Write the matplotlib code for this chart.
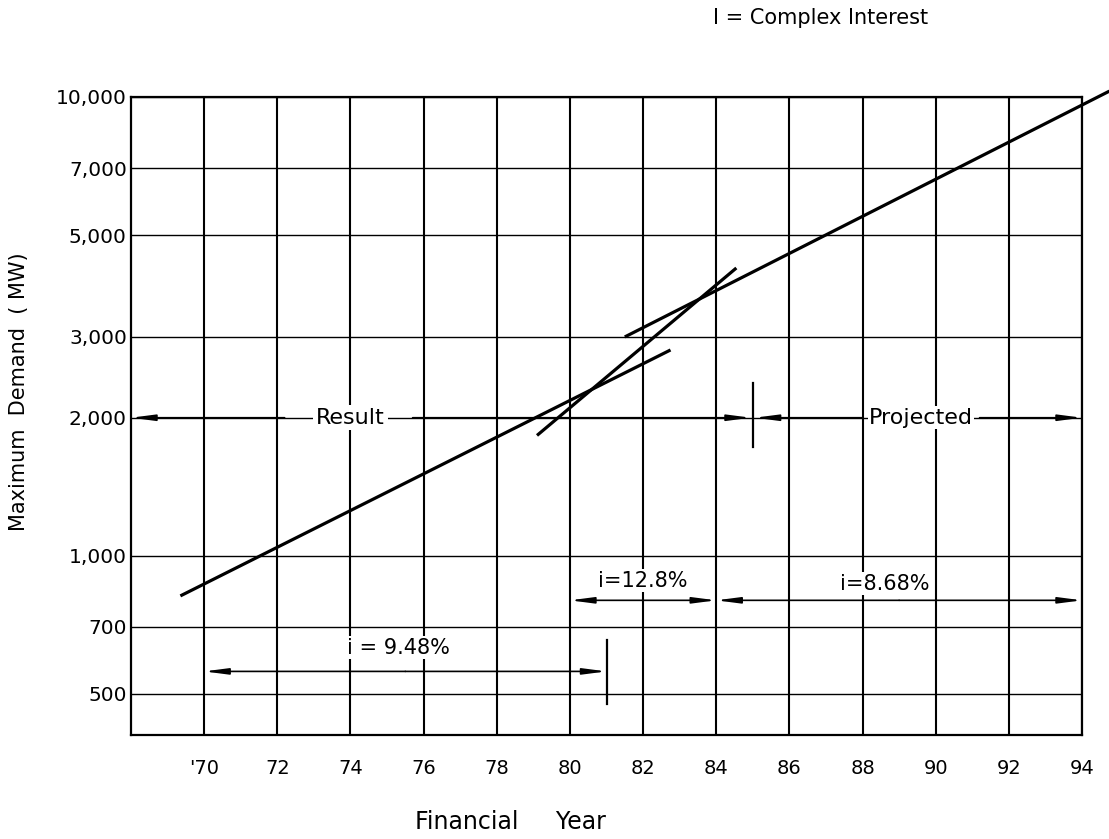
import matplotlib
matplotlib.use("Agg")
import matplotlib.pyplot as plt

# trend lines (financial year, MW)
years_result = [69.35, 82.75]
md_result = [818, 2810]
years_steep = [79.1, 84.55]
md_steep = [1830, 4240]
years_proj = [81.5, 94.75]
md_proj = [3000, 10300]

year_ticks = [70, 72, 74, 76, 78, 80, 82, 84, 86, 88, 90, 92, 94]
year_labels = ["'70", "72", "74", "76", "78", "80", "82", "84", "86", "88", "90", "92", "94"]
md_ticks = [500, 700, 1000, 2000, 3000, 5000, 7000, 10000]
md_labels = ["500", "700", "1,000", "2,000", "3,000", "5,000", "7,000", "10,000"]

# interest-rate spans: (start year, end year, level MW, label, label x, label y)
rate_spans = [
    (70, 81, 560, "i = 9.48%", 75.3, 630),
    (80, 84, 800, "i=12.8%", 82.0, 883),
    (84, 94, 800, "i=8.68%", 88.6, 870),
]
# period separators: (year, low MW, high MW)
separators = [(81, 475, 655), (85, 1730, 2380)]

plt.rcParams['font.family'] = ['DejaVu Sans']

fig = plt.figure(figsize=(11.09, 8.39), dpi=100)
ax = fig.add_axes([131 / 1109, 1 - 735 / 839, 951 / 1109, 638 / 839])
ax.set_yscale('log')
ax.set_xlim(68, 94)
ax.set_ylim(407, 10000)

ax.set_xticks(year_ticks)
ax.set_xticklabels(year_labels, fontsize=14)
ax.set_yticks(md_ticks)
ax.set_yticklabels(md_labels, fontsize=14.5)
ax.minorticks_off()
ax.tick_params(axis='x', length=0, pad=17)
ax.tick_params(axis='y', length=0, pad=3)
ax.grid(True, axis='x', color='black', lw=1.5)
ax.grid(True, axis='y', color='black', lw=1.0)
ax.set_axisbelow(True)
for s in ax.spines.values():
    s.set_linewidth(1.6)

lw_trend = 2.3
ax.plot(years_result, md_result, color='black', lw=lw_trend, solid_capstyle='butt')
ax.plot(years_steep, md_steep, color='black', lw=lw_trend, solid_capstyle='butt')
ax.plot(years_proj, md_proj, color='black', lw=lw_trend, solid_capstyle='butt', clip_on=False)

arrow = dict(arrowstyle='-|>,head_length=1.0,head_width=0.13', color='black',
             lw=1.2, shrinkA=0, shrinkB=0, mutation_scale=14)

for x0, x1, y, label, tx, ty in rate_spans:
    mid = (x0 + x1) / 2
    ax.annotate('', xy=(x0, y), xytext=(mid, y), arrowprops=arrow)
    ax.annotate('', xy=(x1, y), xytext=(mid, y), arrowprops=arrow)
    ax.text(tx, ty, label, fontsize=15, ha='center', va='center',
            bbox=dict(facecolor='white', edgecolor='none', pad=1))

for x, lo, hi in separators:
    ax.plot([x, x], [lo, hi], color='black', lw=1.6)

# Result / Projected arrows along 2,000 MW
ax.annotate('', xy=(68, 2000), xytext=(72.2, 2000), arrowprops=arrow)
ax.annotate('', xy=(84.95, 2000), xytext=(75.7, 2000), arrowprops=arrow)
ax.annotate('', xy=(85.05, 2000), xytext=(88.0, 2000), arrowprops=arrow)
ax.annotate('', xy=(94, 2000), xytext=(91.2, 2000), arrowprops=arrow)
ax.text(74.0, 2000, "Result", fontsize=16, ha='center', va='center',
        bbox=dict(facecolor='white', edgecolor='none', pad=2))
ax.text(89.6, 2000, "Projected", fontsize=16, ha='center', va='center',
        bbox=dict(facecolor='white', edgecolor='none', pad=1))

fig.text(713 / 1109, 1 - 18 / 839, "I = Complex Interest", fontsize=15,
         ha='left', va='center')
fig.text(19 / 1109, 1 - 392 / 839, "Maximum  Demand  ( MW)", fontsize=15,
         rotation=90, ha='center', va='center')
fig.text(510 / 1109, 1 - 822 / 839, "Financial     Year", fontsize=17,
         ha='center', va='center')

fig.savefig("out.png", dpi=100)
